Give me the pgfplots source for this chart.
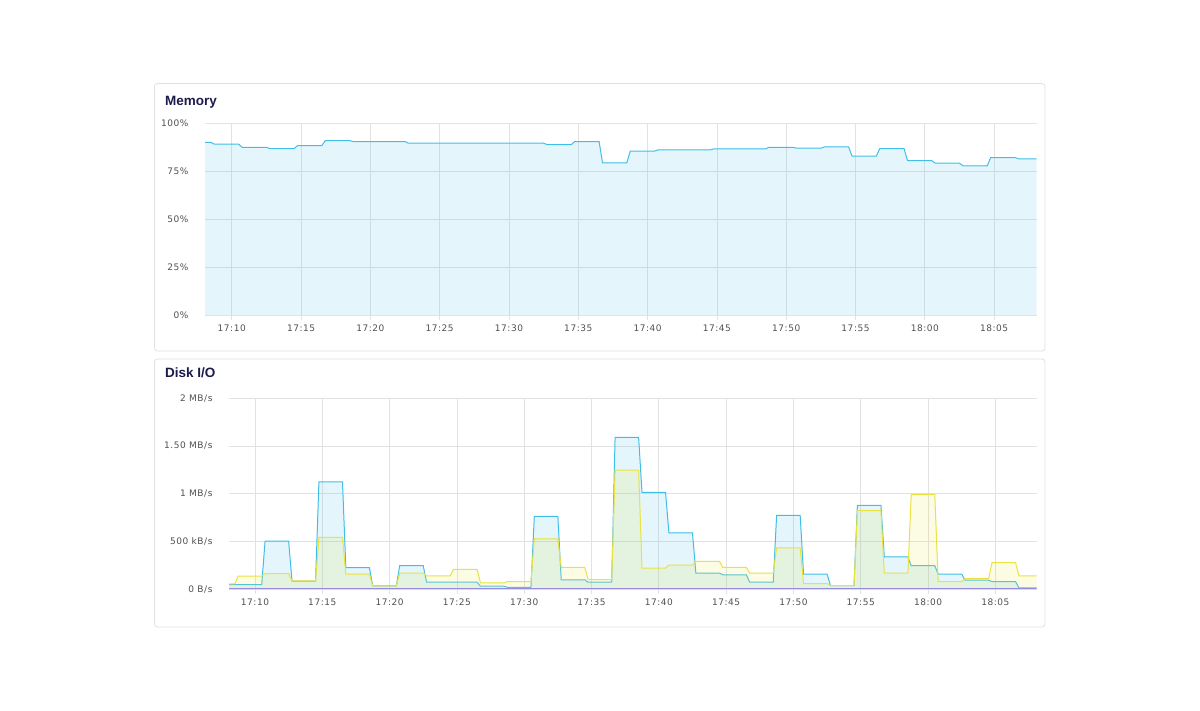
\documentclass[border=0pt]{standalone}
\usepackage{fontspec}
\setmainfont{DejaVu Sans}
\newfontfamily\tickfont[LetterSpace=6]{DejaVu Sans}
\newfontfamily\titlefont{Liberation Sans}
\usepackage{pgfplots}
\pgfplotsset{compat=1.18}
\definecolor{bline}{RGB}{64,190,232}
\definecolor{yline}{RGB}{234,226,64}
\definecolor{pline}{RGB}{150,140,225}
\definecolor{gridc}{RGB}{226,226,226}
\definecolor{panelb}{RGB}{224,224,224}
\definecolor{titlec}{RGB}{27,27,75}
\definecolor{tickc}{RGB}{80,80,80}
\pgfplotsset{
  dash/.style={
    scale only axis, anchor=south west,
    xmin=8.07, xmax=68.07,
    axis line style={draw=none},
    grid=major, major grid style={gridc, line width=0.8pt},
    xtick={10,15,20,25,30,35,40,45,50,55,60,65},
    xticklabels={17:10,17:15,17:20,17:25,17:30,17:35,17:40,17:45,17:50,17:55,18:00,18:05},
    tick align=outside, major tick length=5pt,
    xtick pos=bottom,
    xtick style={gridc, line width=0.8pt},
    ytick style={draw=none},
    ticklabel style={font=\tickfont\fontsize{9}{10}\selectfont, text=tickc},
    yticklabel style={xshift=-8pt},
    xticklabel style={yshift=-1pt},
  }
}
\begin{document}
\begin{tikzpicture}[x=1pt,y=1pt]
\path (0,0) rectangle (1200,710);
\draw[panelb, rounded corners=3pt, line width=0.8pt] (154.5,359) rectangle (1045,626.5);
\draw[panelb, rounded corners=3pt, line width=0.8pt] (154.5,83) rectangle (1045,351);
\node[anchor=base west, text=titlec, font=\titlefont\bfseries\fontsize{13.5}{15}\selectfont, inner sep=0] at (165,604) {Memory};
\node[anchor=base west, text=titlec, font=\titlefont\bfseries\fontsize{13.5}{15}\selectfont, inner sep=0] at (165,332) {Disk I/O};

\begin{axis}[dash, at={(205pt,395pt)}, width=831.7pt, height=191.7pt,
  ymin=0, ymax=100, ytick={0,25,50,75,100},
  yticklabels={0\%,25\%,50\%,75\%,100\%}]
\addplot[draw=none, fill=bline, fill opacity=0.14] coordinates {
(8.07,90.0)(8.5,90.0)(8.75,89.1)(10.5,89.1)(10.75,87.5)(12.5,87.5)(12.75,86.8)(14.5,86.8)(14.75,88.4)(16.5,88.4)(16.75,91.0)(18.5,91.0)(18.75,90.5)(22.5,90.5)(22.75,89.6)(32.5,89.6)(32.75,88.9)(34.5,88.9)(34.75,90.5)(36.5,90.5)(36.75,79.4)(38.5,79.4)(38.75,85.5)(40.5,85.5)(40.75,86.1)(44.5,86.1)(44.75,86.6)(48.5,86.6)(48.75,87.5)(50.5,87.5)(50.75,87.0)(52.5,87.0)(52.75,87.7)(54.5,87.7)(54.75,82.9)(56.5,82.9)(56.75,86.8)(58.5,86.8)(58.75,80.5)(60.5,80.5)(60.75,79.2)(62.5,79.2)(62.75,77.8)(64.5,77.8)(64.75,82.1)(66.5,82.1)(66.75,81.5)(68.07,81.5)
} \closedcycle;
\addplot[bline, line width=1pt] coordinates {
(8.07,90.0)(8.5,90.0)(8.75,89.1)(10.5,89.1)(10.75,87.5)(12.5,87.5)(12.75,86.8)(14.5,86.8)(14.75,88.4)(16.5,88.4)(16.75,91.0)(18.5,91.0)(18.75,90.5)(22.5,90.5)(22.75,89.6)(32.5,89.6)(32.75,88.9)(34.5,88.9)(34.75,90.5)(36.5,90.5)(36.75,79.4)(38.5,79.4)(38.75,85.5)(40.5,85.5)(40.75,86.1)(44.5,86.1)(44.75,86.6)(48.5,86.6)(48.75,87.5)(50.5,87.5)(50.75,87.0)(52.5,87.0)(52.75,87.7)(54.5,87.7)(54.75,82.9)(56.5,82.9)(56.75,86.8)(58.5,86.8)(58.75,80.5)(60.5,80.5)(60.75,79.2)(62.5,79.2)(62.75,77.8)(64.5,77.8)(64.75,82.1)(66.5,82.1)(66.75,81.5)(68.07,81.5)
};
\end{axis}

\begin{axis}[dash, at={(229pt,120.7pt)}, width=807.7pt, height=191pt,
  ymin=0, ymax=2, ytick={0,0.5,1,1.5,2},
  yticklabels={0 B/s,500 kB/s,1 MB/s,1.50 MB/s,2 MB/s}]
\addplot[draw=none, fill=bline, fill opacity=0.14] coordinates {
(8.07,0.048)(10.5,0.048)(10.75,0.505)(12.5,0.505)(12.75,0.085)(14.5,0.085)(14.75,1.124)(16.5,1.124)(16.75,0.226)(18.5,0.226)(18.75,0.035)(20.5,0.035)(20.75,0.247)(22.5,0.247)(22.75,0.074)(26.5,0.074)(26.75,0.032)(28.5,0.032)(28.75,0.021)(30.5,0.021)(30.75,0.763)(32.5,0.763)(32.75,0.099)(34.5,0.099)(34.75,0.074)(36.5,0.074)(36.75,1.59)(38.5,1.59)(38.75,1.014)(40.5,1.014)(40.75,0.59)(42.5,0.59)(42.75,0.17)(44.5,0.17)(44.75,0.152)(46.5,0.152)(46.75,0.074)(48.5,0.074)(48.75,0.774)(50.5,0.774)(50.75,0.159)(52.5,0.159)(52.75,0.039)(54.5,0.039)(54.75,0.88)(56.5,0.88)(56.75,0.339)(58.5,0.339)(58.75,0.247)(60.5,0.247)(60.75,0.159)(62.5,0.159)(62.75,0.095)(64.5,0.095)(64.75,0.081)(66.5,0.081)(66.75,0.014)(68.07,0.014)
} \closedcycle;
\addplot[bline, line width=1pt] coordinates {
(8.07,0.048)(10.5,0.048)(10.75,0.505)(12.5,0.505)(12.75,0.085)(14.5,0.085)(14.75,1.124)(16.5,1.124)(16.75,0.226)(18.5,0.226)(18.75,0.035)(20.5,0.035)(20.75,0.247)(22.5,0.247)(22.75,0.074)(26.5,0.074)(26.75,0.032)(28.5,0.032)(28.75,0.021)(30.5,0.021)(30.75,0.763)(32.5,0.763)(32.75,0.099)(34.5,0.099)(34.75,0.074)(36.5,0.074)(36.75,1.59)(38.5,1.59)(38.75,1.014)(40.5,1.014)(40.75,0.59)(42.5,0.59)(42.75,0.17)(44.5,0.17)(44.75,0.152)(46.5,0.152)(46.75,0.074)(48.5,0.074)(48.75,0.774)(50.5,0.774)(50.75,0.159)(52.5,0.159)(52.75,0.039)(54.5,0.039)(54.75,0.88)(56.5,0.88)(56.75,0.339)(58.5,0.339)(58.75,0.247)(60.5,0.247)(60.75,0.159)(62.5,0.159)(62.75,0.095)(64.5,0.095)(64.75,0.081)(66.5,0.081)(66.75,0.014)(68.07,0.014)
};
\addplot[draw=none, fill=yline, fill opacity=0.15] coordinates {
(8.07,0.057)(8.5,0.057)(8.75,0.138)(10.5,0.138)(10.75,0.163)(12.5,0.163)(12.75,0.088)(14.5,0.088)(14.75,0.544)(16.5,0.544)(16.75,0.159)(18.5,0.159)(18.75,0.035)(20.5,0.035)(20.75,0.17)(22.5,0.17)(22.75,0.141)(24.5,0.141)(24.75,0.208)(26.5,0.208)(26.75,0.067)(28.5,0.067)(28.75,0.081)(30.5,0.081)(30.75,0.527)(32.5,0.527)(32.75,0.23)(34.5,0.23)(34.75,0.102)(36.5,0.102)(36.75,1.247)(38.5,1.247)(38.75,0.223)(40.5,0.223)(40.75,0.254)(42.5,0.254)(42.75,0.293)(44.5,0.293)(44.75,0.23)(46.5,0.23)(46.75,0.17)(48.5,0.17)(48.75,0.435)(50.5,0.435)(50.75,0.06)(52.5,0.06)(52.75,0.039)(54.5,0.039)(54.75,0.823)(56.5,0.823)(56.75,0.17)(58.5,0.17)(58.75,0.993)(60.5,0.993)(60.75,0.081)(62.5,0.081)(62.75,0.113)(64.5,0.113)(64.75,0.279)(66.5,0.279)(66.75,0.141)(68.07,0.141)
} \closedcycle;
\addplot[yline, line width=1pt] coordinates {
(8.07,0.057)(8.5,0.057)(8.75,0.138)(10.5,0.138)(10.75,0.163)(12.5,0.163)(12.75,0.088)(14.5,0.088)(14.75,0.544)(16.5,0.544)(16.75,0.159)(18.5,0.159)(18.75,0.035)(20.5,0.035)(20.75,0.17)(22.5,0.17)(22.75,0.141)(24.5,0.141)(24.75,0.208)(26.5,0.208)(26.75,0.067)(28.5,0.067)(28.75,0.081)(30.5,0.081)(30.75,0.527)(32.5,0.527)(32.75,0.23)(34.5,0.23)(34.75,0.102)(36.5,0.102)(36.75,1.247)(38.5,1.247)(38.75,0.223)(40.5,0.223)(40.75,0.254)(42.5,0.254)(42.75,0.293)(44.5,0.293)(44.75,0.23)(46.5,0.23)(46.75,0.17)(48.5,0.17)(48.75,0.435)(50.5,0.435)(50.75,0.06)(52.5,0.06)(52.75,0.039)(54.5,0.039)(54.75,0.823)(56.5,0.823)(56.75,0.17)(58.5,0.17)(58.75,0.993)(60.5,0.993)(60.75,0.081)(62.5,0.081)(62.75,0.113)(64.5,0.113)(64.75,0.279)(66.5,0.279)(66.75,0.141)(68.07,0.141)
};
\addplot[pline, line width=1pt] coordinates {(8.07,0.004)(68.07,0.004)};
\end{axis}
\end{tikzpicture}
\end{document}
